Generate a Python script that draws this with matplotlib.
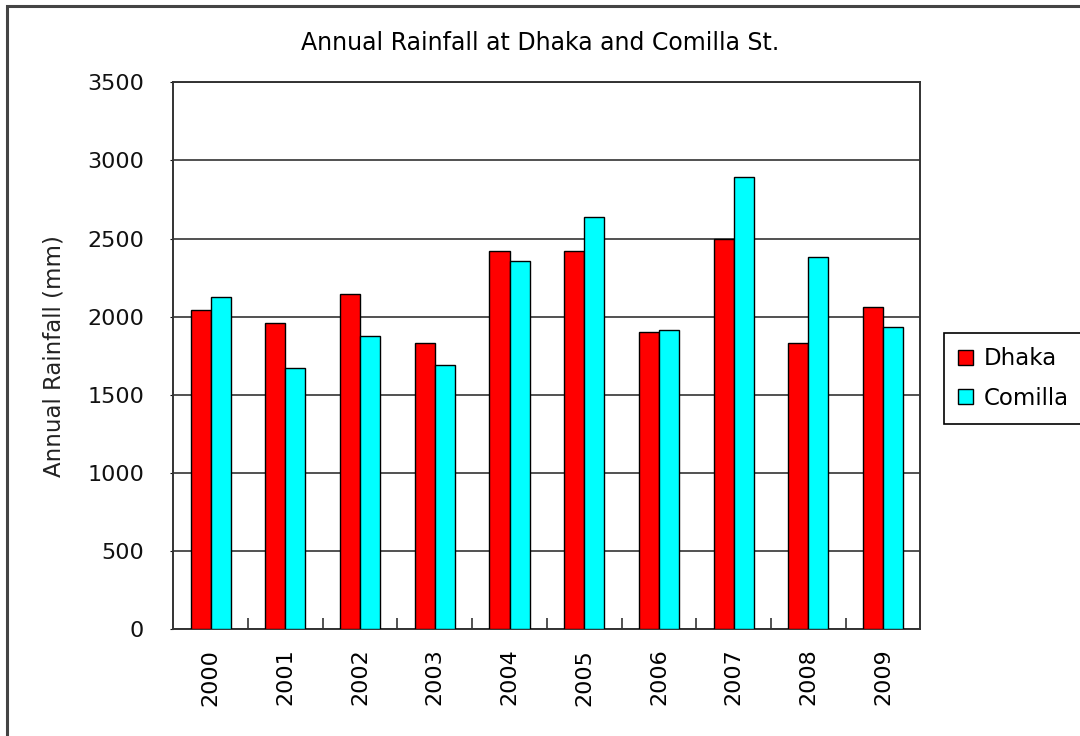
import matplotlib
matplotlib.use("Agg")
import matplotlib.pyplot as plt
import numpy as np
from matplotlib.patches import Rectangle

years = ["2000", "2001", "2002", "2003", "2004", "2005", "2006", "2007", "2008", "2009"]
dhaka = [2045, 1960, 2143, 1830, 2423, 2423, 1902, 2495, 1830, 2062]
comilla = [2124, 1670, 1877, 1689, 2357, 2638, 1915, 2896, 2384, 1932]

plt.rcParams['font.family'] = ['DejaVu Sans']

fig = plt.figure(figsize=(10.8, 7.36), dpi=100)
ax = fig.add_axes([0.1605, 0.145, 0.6917, 0.7432])

x = np.arange(len(years))
w = 0.268
ax.bar(x - w / 2, dhaka, w, color='#ff0000', edgecolor='black', linewidth=1, label='Dhaka', zorder=3)
ax.bar(x + w / 2, comilla, w, color='#00ffff', edgecolor='black', linewidth=1, label='Comilla', zorder=3)

ax.set_xlim(-0.5, len(years) - 0.5)
ax.set_ylim(0, 3500)
ax.set_yticks(np.arange(0, 3501, 500))
ax.yaxis.grid(True, color='#222222', linewidth=1.1, zorder=0)
ax.tick_params(axis='y', labelsize=16, length=2, direction='out', pad=19, colors='#111111')

ax.set_xticks(x)
ax.set_xticklabels(years, rotation=90, fontsize=16)
ax.tick_params(axis='x', which='major', length=0, pad=14)
ax.set_xticks(np.arange(0.5, len(years) - 1, 1), minor=True)
ax.tick_params(axis='x', which='minor', length=8, direction='in', width=1.2, color='#333333')

for s in ax.spines.values():
    s.set_color('#333333')
    s.set_linewidth(1.4)

ax.set_ylabel('Annual Rainfall (mm)', fontsize=16.5, labelpad=16, color='#222222')
fig.text(0.5, 0.941, 'Annual Rainfall at Dhaka and Comilla St.', ha='center', va='center',
         fontsize=17)

leg = ax.legend(loc='center left', bbox_to_anchor=(0.874, 0.4857), bbox_transform=fig.transFigure,
                fontsize=16.5, frameon=True, fancybox=False, edgecolor='black', framealpha=1,
                handlelength=0.65, handleheight=0.65, handletextpad=0.45, labelspacing=0.72,
                borderpad=0.62, borderaxespad=0)
leg.get_frame().set_linewidth(1.2)

# outer frame of the chart
fig.patches.append(Rectangle((7 / 1080, -0.1), 1.2, 1.1 - 6 / 736, transform=fig.transFigure,
                             fill=False, edgecolor='#444444', linewidth=2.2))

fig.savefig('out.png', dpi=100)
